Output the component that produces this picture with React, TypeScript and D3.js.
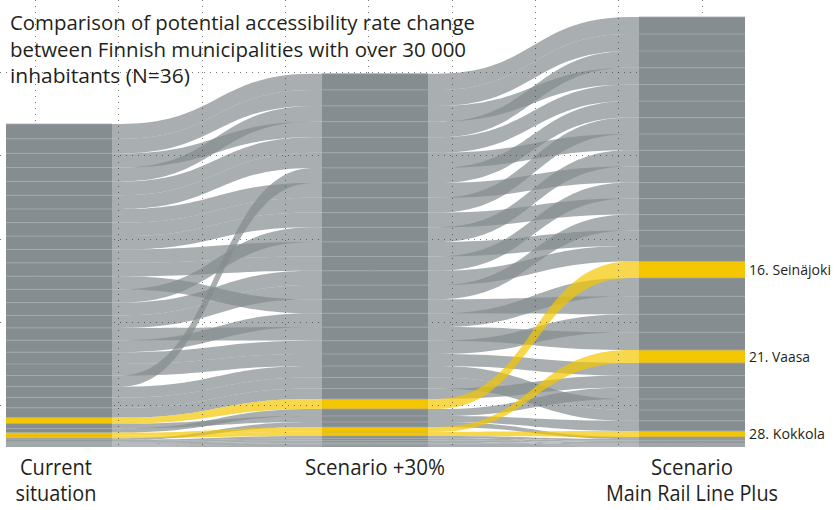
import * as d3 from 'd3'

// municipalities in "current situation" order (top to bottom)
const municipalities = [
  'M01', 'M02', 'M03', 'M04', 'M05', 'M06', 'M07', 'M08', 'M09', 'M10', 'M11', 'M12',
  'M13', 'M14', 'M15', 'M16', 'M17', 'M18', 'M19', 'M20', 'M21', 'M22', 'M23', 'Seinäjoki',
  'M25', 'M26', 'Vaasa', 'Kokkola', 'M29', 'M30', 'M31', 'M32', 'M33', 'M34', 'M35', 'M36',
]
const highlighted = ['Seinäjoki', 'Vaasa', 'Kokkola']
const highlightLabels = ['16. Seinäjoki', '21. Vaasa', '28. Kokkola']

// potential accessibility per municipality and scenario
const current = [
  14.8, 14.6, 14.2, 13.9, 13.8, 13.7, 13.6, 13.5, 13.4, 13.35, 13.3, 13.25, 13.2, 12.8, 12.5, 12.3,
  12.0, 11.8, 11.5, 11.2, 10.8, 10.3, 9.8, 6.0, 4.8, 4.2, 3.0, 2.6, 1.6, 1.4, 1.2, 1.1, 1.0, 0.9, 0.8, 0.8,
]
const plus30 = [
  16.2, 16.0, 15.6, 15.8, 15.4, 15.2, 14.9, 14.8, 14.7, 14.5, 14.4, 14.0, 14.6, 14.3, 14.2, 13.6,
  13.8, 13.3, 12.0, 15.0, 11.5, 11.0, 10.5, 10.0, 6.0, 7.0, 4.8, 4.2, 5.0, 2.4, 2.0, 1.7, 1.5, 1.3, 1.1, 1.0,
]
const railPlus = [
  17.0, 17.0, 16.8, 16.7, 16.6, 16.3, 16.1, 16.4, 16.0, 15.6, 16.0, 18.0, 16.2, 15.4, 15.8, 17.7,
  18.4, 18.0, 12.5, 16.5, 11.0, 10.8, 12.0, 16.5, 10.2, 11.5, 13.0, 6.0, 2.0, 1.6, 1.4, 1.2, 1.1, 1.0, 0.9, 0.8,
]

// rank (1 = top) in each scenario
const rankCurrent = [
  1, 2, 3, 4, 5, 6, 7, 8, 9, 10, 11, 12, 13, 14, 15, 16, 17, 18,
  19, 20, 21, 22, 23, 24, 25, 26, 27, 28, 29, 30, 31, 32, 33, 34, 35, 36,
]
const rankPlus30 = [
  1, 2, 4, 3, 5, 6, 8, 9, 10, 12, 13, 16, 11, 14, 15, 18, 17, 19,
  20, 7, 21, 22, 23, 24, 26, 25, 28, 29, 27, 30, 31, 32, 33, 34, 35, 36,
]
const rankRail = [
  1, 2, 3, 4, 5, 8, 10, 7, 12, 14, 11, 18, 9, 15, 13, 20, 17, 19,
  22, 6, 25, 26, 23, 16, 27, 24, 21, 28, 29, 30, 31, 32, 33, 34, 35, 36,
]

const stageLabels = [['Current', 'situation'], ['Scenario +30%'], ['Scenario', 'Main Rail Line Plus']]
const stageLabelWidths = [[72, 81], [140], [82, 172]]
const titleLines = [
  'Comparison of potential accessibility rate change',
  'between Finnish municipalities with over 30 000',
  'inhabitants (N=36)',
]

const WIDTH = 837
const HEIGHT = 510
const BASE = 447
const COL_W = 106
const COL_X = [6, 322, 639]
const STUB = 9
const FONT = '"Open Sans", "Noto Sans", sans-serif'

const COLUMN = '#868d90'
const SEP = '#a3aaac'
const RIBBON = '#848b8e'
const YELLOW = '#f3c600'

type Slot = { y0: number; y1: number }

function stack(values: number[], ranks: number[], h: d3.ScaleLinear<number, number>): Slot[] {
  const order = d3.range(values.length).sort((a, b) => ranks[a] - ranks[b])
  const slots: Slot[] = new Array(values.length)
  let y = BASE - h(d3.sum(values))
  order.forEach((i) => {
    slots[i] = { y0: y, y1: y + h(values[i]) }
    y += h(values[i])
  })
  return slots
}

function ribbon(xa: number, xb: number, a: Slot, b: Slot) {
  const xm = (xa + xb) / 2
  const p = d3.path()
  p.moveTo(xa, a.y0)
  p.lineTo(xa + STUB, a.y0)
  p.bezierCurveTo(xm, a.y0, xm, b.y0, xb - STUB, b.y0)
  p.lineTo(xb, b.y0)
  p.lineTo(xb, b.y1)
  p.lineTo(xb - STUB, b.y1)
  p.bezierCurveTo(xm, b.y1, xm, a.y1, xa + STUB, a.y1)
  p.lineTo(xa, a.y1)
  p.closePath()
  return p.toString()
}

export default function App() {
  const series = [current, plus30, railPlus]
  const ranks = [rankCurrent, rankPlus30, rankRail]
  const maxTotal = d3.max(series, (s) => d3.sum(s)) as number
  const h = d3.scaleLinear().domain([0, maxTotal]).range([0, 430])
  const slots = series.map((s, k) => stack(s, ranks[k], h))

  const isHi = (i: number) => highlighted.includes(municipalities[i])
  const gaps = [0, 1]

  const gridX = d3.range(35, 745, 250 / 3).map((v) => Math.round(v) + 0.5)
  const gridY = d3.range(72, 447, 250 / 3).map((v) => Math.round(v) + 0.5)

  return (
    <svg
      width={WIDTH}
      height={HEIGHT}
      viewBox={`0 0 ${WIDTH} ${HEIGHT}`}
      style={{ position: 'absolute', left: 0, top: 0, background: '#fff' }}
    >
      <g>
        {gaps.map((g) =>
          municipalities.map((m, i) =>
            isHi(i) ? null : (
              <path
                key={`r${g}-${m}`}
                d={ribbon(COL_X[g] + COL_W, COL_X[g + 1], slots[g][i], slots[g + 1][i])}
                fill={RIBBON}
                fillOpacity={0.7}
              />
            ),
          ),
        )}
        {gaps.map((g) =>
          municipalities.map((m, i) =>
            isHi(i) ? (
              <path
                key={`y${g}-${m}`}
                d={ribbon(COL_X[g] + COL_W, COL_X[g + 1], slots[g][i], slots[g + 1][i])}
                fill={YELLOW}
                fillOpacity={0.7}
              />
            ) : null,
          ),
        )}
      </g>

      <g stroke="#333" strokeOpacity={0.65} strokeDasharray="1 5" strokeWidth={1}>
        {gridX.map((x) => (
          <line key={`gx${x}`} x1={x} x2={x} y1={0} y2={BASE} />
        ))}
        {gridY.map((y) => (
          <line key={`gy${y}`} x1={0} x2={745} y1={y} y2={y} />
        ))}
      </g>

      {slots.map((col, k) => (
        <g key={`c${k}`}>
          {municipalities.map((m, i) => (
            <rect
              key={m}
              x={COL_X[k]}
              y={col[i].y0}
              width={COL_W}
              height={col[i].y1 - col[i].y0}
              fill={isHi(i) ? YELLOW : COLUMN}
            />
          ))}
          {municipalities.map((m, i) => (
            <line
              key={`s${m}`}
              x1={COL_X[k]}
              x2={COL_X[k] + COL_W}
              y1={col[i].y0}
              y2={col[i].y0}
              stroke={SEP}
              strokeWidth={0.8}
            />
          ))}
        </g>
      ))}

      <g fontFamily={FONT} fill="#231f20">
        {titleLines.map((t, j) => (
          <text
            key={t}
            x={10}
            y={30 + j * 26.5}
            fontSize={20.5}
            textLength={[465, 456, 180][j]}
            lengthAdjust="spacingAndGlyphs"
          >
            {t}
          </text>
        ))}

        {stageLabels.map((lines, k) =>
          lines.map((t, j) => (
            <text
              key={t}
              x={COL_X[k] + COL_W / 2 - (k === 0 ? 3 : 0)}
              y={475 + j * 26}
              fontSize={21}
              textAnchor="middle"
              textLength={stageLabelWidths[k][j]}
              lengthAdjust="spacingAndGlyphs"
            >
              {t}
            </text>
          )),
        )}

        {highlighted.map((m, j) => {
          const i = municipalities.indexOf(m)
          const s = slots[2][i]
          return (
            <text
              key={m}
              x={749}
              y={(s.y0 + s.y1) / 2 + 5}
              fontSize={14}
              textLength={[82, 61, 76][j]}
              lengthAdjust="spacingAndGlyphs"
            >
              {highlightLabels[j]}
            </text>
          )
        })}
      </g>
    </svg>
  )
}
